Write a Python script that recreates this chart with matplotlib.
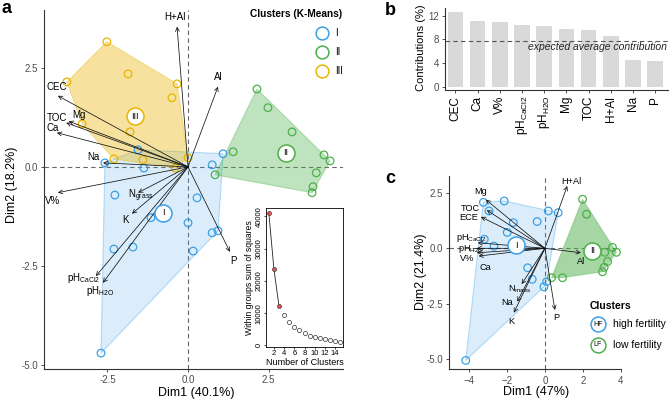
import numpy as np
import matplotlib
matplotlib.use('Agg')
import matplotlib.pyplot as plt
from matplotlib.patches import Polygon

plt.rcParams['font.family'] = ['Liberation Sans', 'DejaVu Sans']
plt.rcParams['mathtext.fontset'] = 'custom'
plt.rcParams['mathtext.rm'] = 'Liberation Sans'
plt.rcParams['mathtext.it'] = 'Liberation Sans:italic'
plt.rcParams['mathtext.bf'] = 'Liberation Sans:bold'

# ---------------- data: panel a (PCA, k-means clusters) ----------------
a_I_x = [-2.58, -1.55, -1.37, 0.75, 1.09, -2.27, 0.28, -1.15, 0.0, 0.75, 0.93, -2.30, -1.71, 0.16, -2.70]
a_I_y = [0.10, 0.43, -0.03, 0.05, 0.33, -0.71, -0.78, -1.28, -1.41, -1.66, -1.61, -2.07, -2.02, -2.12, -4.69]
a_II_x = [2.14, 2.48, 3.23, 1.40, 4.22, 4.41, 3.98, 3.88, 3.85, 0.84]
a_II_y = [1.96, 1.49, 0.88, 0.38, 0.30, 0.15, -0.15, -0.50, -0.65, -0.20]
a_III_x = [-2.52, -1.86, -3.76, -0.34, -0.50, -3.29, -1.80, -2.30, -1.40, 0.0, -0.40]
a_III_y = [3.15, 2.34, 2.14, 2.09, 1.74, 1.08, 0.88, 0.20, 0.18, 0.23, -0.03]
a_centers = {'I': (-0.78, -1.16), 'II': (3.04, 0.35), 'III': (-1.65, 1.28)}

a_vars = ['H+Al', 'Al', 'CEC', 'Mg', 'TOC', 'Ca', 'Na', 'V%', 'Ngrass', 'K', 'pHCaCl2', 'pHH2O', 'P']
a_load_x = [-0.34, 0.93, -4.04, -3.70, -3.78, -4.07, -2.64, -4.04, -1.55, -1.74, -2.86, -2.64, 1.30]
a_load_y = [3.53, 2.02, 1.79, 1.15, 1.11, 0.86, 0.10, -0.65, -0.65, -1.18, -2.75, -2.92, -2.14]

# elbow inset
k_clusters = np.arange(1, 16)
wss = [41000, 23600, 12100, 9500, 7300, 5750, 4700, 3800, 3000, 2550, 2150, 1850, 1550, 1350, 1150]

# ---------------- data: panel b (contributions) ----------------
b_vars = ['CEC', 'Ca', 'V%', 'pHCaCl2', 'pHH2O', 'Mg', 'TOC', 'H+Al', 'Na', 'P']
b_contrib = [12.56, 11.1, 10.87, 10.48, 10.31, 9.80, 9.52, 8.62, 4.51, 4.28]
b_expected = 7.7

# ---------------- data: panel c (PCA, fertility clusters) ----------------
c_HF_x = [-3.25, -2.15, -2.95, -1.67, -1.99, -0.41, 0.18, 0.70, -3.20, -2.69, -0.91, -0.67, 0.09, -0.05, -4.18]
c_HF_y = [2.08, 2.14, 1.69, 1.16, 0.72, 1.21, 1.69, 1.61, 0.41, 0.10, -0.88, -1.40, -1.51, -1.74, -5.07]
c_LF_x = [1.99, 2.20, 3.57, 3.78, 3.16, 3.31, 3.13, 3.04, 0.35, 0.93]
c_LF_y = [2.22, 1.54, 0.04, -0.18, -0.18, -0.60, -0.86, -1.06, -1.33, -1.33]
c_centers = {'I': (-1.53, 0.15), 'II': (2.50, -0.12)}

c_vars = ['H+Al', 'Mg', 'TOC', 'ECE', 'pHCaCl2', 'pHH2O', 'V%', 'Ca', 'Al', 'P', 'Nmass', 'Na', 'K']
c_load_x = [1.18, -3.12, -3.07, -3.38, -3.55, -3.60, -3.60, -3.50, 1.90, 0.53, -1.23, -1.46, -1.64]
c_load_y = [2.82, 2.20, 1.73, 1.42, 0.25, 0.0, -0.20, -0.35, -0.20, -2.79, -1.62, -2.41, -2.91]

# ---------------- styles / layout ----------------
BLUE = '#3AA0E6'
GREEN = '#4DAF4A'
YELLOW = '#E8B400'
AXC = '#333333'

pretty = {
    'pHCaCl2': r'pH$_{\mathregular{CaCl2}}$',
    'pHH2O': r'pH$_{\mathregular{H2O}}$',
    'Ngrass': r'N$_{\mathregular{grass}}$',
    'Nmass': r'N$_{\mathregular{mass}}$',
}

a_lab_pos = {'H+Al': (-0.40, 3.78), 'Al': (0.93, 2.27), 'CEC': (-4.07, 2.02), 'Mg': (-3.40, 1.31),
             'TOC': (-4.07, 1.23), 'Ca': (-4.19, 0.98), 'Na': (-2.95, 0.25), 'V%': (-4.19, -0.86),
             'Ngrass': (-1.45, -0.73), 'K': (-1.93, -1.33), 'pHCaCl2': (-3.25, -2.80),
             'pHH2O': (-2.72, -3.12), 'P': (1.40, -2.37)}
c_lab_pos = {'H+Al': (1.41, 3.01), 'Mg': (-3.38, 2.56), 'TOC': (-3.96, 1.81), 'ECE': (-4.04, 1.39),
             'pHCaCl2': (-3.85, 0.47), 'pHH2O': (-3.90, -0.02), 'V%': (-4.13, -0.47), 'Ca': (-3.16, -0.86),
             'Al': (1.90, -0.60), 'P': (0.58, -3.12), 'Nmass': (-1.32, -1.86), 'Na': (-1.99, -2.44),
             'K': (-1.76, -3.29)}


def convex_hull(xs, ys):
    pts = sorted(set(zip(xs, ys)))

    def cross(o, a, b):
        return (a[0] - o[0]) * (b[1] - o[1]) - (a[1] - o[1]) * (b[0] - o[0])
    lower, upper = [], []
    for p in pts:
        while len(lower) >= 2 and cross(lower[-2], lower[-1], p) <= 0:
            lower.pop()
        lower.append(p)
    for p in reversed(pts):
        while len(upper) >= 2 and cross(upper[-2], upper[-1], p) <= 0:
            upper.pop()
        upper.append(p)
    return np.array(lower[:-1] + upper[:-1])


def style_axes(ax):
    for s in ['top', 'right']:
        ax.spines[s].set_visible(False)
    for s in ['left', 'bottom']:
        ax.spines[s].set_color(AXC)
        ax.spines[s].set_linewidth(0.8)
    ax.tick_params(colors=AXC, labelcolor='#4D4D4D', labelsize=7, length=2.5, width=0.6, pad=2)


def biplot(ax, groups, centers, vars_, lx, ly, lab_pos, labsize):
    ax.axhline(0, color='#666666', ls=(0, (4, 3)), lw=0.8, zorder=1)
    ax.axvline(0, color='#666666', ls=(0, (4, 3)), lw=0.8, zorder=1)
    for xs, ys, col, alpha in groups:
        h = convex_hull(xs, ys)
        ax.add_patch(Polygon(h, closed=True, facecolor=col, alpha=alpha, edgecolor='none', zorder=2))
        ax.add_patch(Polygon(h, closed=True, facecolor='none', edgecolor=col, alpha=0.35, lw=0.8, zorder=2))
    for xs, ys, col, alpha in groups:
        ax.scatter(xs, ys, s=30, facecolors='none', edgecolors=col, linewidths=0.9, zorder=3)
    for name, (cx, cy), col in centers:
        ax.scatter([cx], [cy], s=150, facecolors='white', edgecolors=col, linewidths=1.1, zorder=5)
        ax.text(cx, cy, name, ha='center', va='center', fontsize=6.5, zorder=6)
    for v, x, y in zip(vars_, lx, ly):
        ax.annotate('', xy=(x, y), xytext=(0, 0),
                    arrowprops=dict(arrowstyle='->', lw=0.55, color='#111111',
                                    shrinkA=0, shrinkB=0, mutation_scale=7), zorder=4)
        tx, ty = lab_pos[v]
        ax.text(tx, ty, pretty.get(v, v), ha='center', va='center', fontsize=labsize, zorder=6)


fig = plt.figure(figsize=(6.69, 3.99), dpi=100)
W, H = 669.0, 399.0

# ---------------- panel a ----------------
ax_a = fig.add_axes([44 / W, 1 - 369 / H, 299 / W, 359 / H])
style_axes(ax_a)
biplot(ax_a,
       [(a_I_x, a_I_y, BLUE, 0.18), (a_II_x, a_II_y, GREEN, 0.35), (a_III_x, a_III_y, YELLOW, 0.38)],
       [('I', a_centers['I'], BLUE), ('II', a_centers['II'], GREEN), ('III', a_centers['III'], YELLOW)],
       a_vars, a_load_x, a_load_y, a_lab_pos, 7)
ax_a.set_xlim(-4.47, 4.81)
ax_a.set_ylim(-5.09, 3.95)
ax_a.set_xticks([-2.5, 0, 2.5])
ax_a.set_xticklabels(['-2.5', '0.0', '2.5'])
ax_a.set_yticks([-5, -2.5, 0, 2.5])
ax_a.set_yticklabels(['-5.0', '-2.5', '0.0', '2.5'])

# legend a
ax_a.text(0.689, 0.989, 'Clusters (K-Means)', transform=ax_a.transAxes, fontsize=7.3,
          fontweight='bold', ha='left', va='center')
for yy, name, col in [(0.936, 'I', BLUE), (0.883, 'II', GREEN), (0.830, 'III', YELLOW)]:
    ax_a.scatter([0.930], [yy], s=85, transform=ax_a.transAxes, facecolors='white',
                 edgecolors=col, linewidths=1.1, clip_on=False, zorder=6)
    ax_a.text(0.972, yy, name, transform=ax_a.transAxes, fontsize=7, ha='left', va='center')

fig.text(196 / W, 1 - 393 / H, 'Dim1 (40.1%)', ha='center', va='center', fontsize=9)
fig.text(12 / W, 1 - 185 / H, 'Dim2 (18.2%)', ha='center', va='center', fontsize=9, rotation=90)

# inset elbow
ax_in = fig.add_axes([266 / W, 1 - 347 / H, 77 / W, 139 / H])
ax_in.plot(k_clusters[:3], wss[:3], color='#222222', lw=0.6, zorder=1)
ax_in.scatter(k_clusters[:3], wss[:3], s=9, facecolors='#D9534F', edgecolors='#333333',
              linewidths=0.4, zorder=2)
ax_in.scatter(k_clusters[3:], wss[3:], s=9, facecolors='white', edgecolors='#333333',
              linewidths=0.5, zorder=2)
ax_in.set_xlim(0.44, 15.56)
ax_in.set_ylim(-500, 42600)
ax_in.set_xticks(np.arange(2, 16, 2))
ax_in.set_yticks([0, 10000, 20000, 30000, 40000])
ax_in.tick_params(labelsize=5.5, length=1.5, width=0.5, pad=1)
for lab in ax_in.get_yticklabels():
    lab.set_rotation(90)
    lab.set_va('center')
for s in ax_in.spines.values():
    s.set_linewidth(0.6)
ax_in.set_xlabel('Number of Clusters', fontsize=6.5, labelpad=0.5)
ax_in.set_ylabel('Within groups sum of squares', fontsize=6.2, labelpad=1)

# ---------------- panel b ----------------
ax_b = fig.add_axes([445 / W, 1 - 89.5 / H, 223 / W, 81.5 / H])
style_axes(ax_b)
xb = np.arange(len(b_vars))
ax_b.bar(xb, b_contrib, width=0.7, color='#D9D9D9', zorder=1)
ax_b.axhline(b_expected, color='#555555', ls=(0, (4, 3)), lw=0.8, zorder=2)
ax_b.set_xlim(-0.47, 9.58)
ax_b.set_ylim(-0.47, 13.3)
ax_b.set_yticks([0, 4, 8, 12])
ax_b.set_xticks(xb)
ax_b.set_xticklabels([pretty.get(v, v) for v in b_vars], rotation=90, color='black',
                     fontsize=8.5, family=['Liberation Sans Narrow', 'Liberation Sans'])
ax_b.text(9.55, 6.65, 'expected average contribution', ha='right', va='center',
          fontsize=7.5, style='italic', color='#222222')
fig.text(421 / W, 1 - 48 / H, 'Contributions (%)', ha='center', va='center', fontsize=8, rotation=90)

# ---------------- panel c ----------------
ax_c = fig.add_axes([449.3 / W, 1 - 369.3 / H, 171.7 / W, 193.3 / H])
style_axes(ax_c)
biplot(ax_c,
       [(c_HF_x, c_HF_y, BLUE, 0.18), (c_LF_x, c_LF_y, GREEN, 0.5)],
       [('I', c_centers['I'], BLUE), ('II', c_centers['II'], GREEN)],
       c_vars, c_load_x, c_load_y, c_lab_pos, 6.6)
ax_c.set_xlim(-5.05, 4.02)
ax_c.set_ylim(-5.47, 3.27)
ax_c.set_xticks([-4, -2, 0, 2, 4])
ax_c.set_yticks([-5, -2.5, 0, 2.5])
ax_c.set_yticklabels(['-5.0', '-2.5', '0.0', '2.5'])

ax_c.text(0.819, 0.327, 'Clusters', transform=ax_c.transAxes, fontsize=7.5,
          fontweight='bold', ha='left', va='center')
for yy, code, name, col in [(0.234, 'HF', 'high fertility', BLUE), (0.126, 'LF', 'low fertility', GREEN)]:
    ax_c.scatter([0.866], [yy], s=115, transform=ax_c.transAxes, facecolors='white',
                 edgecolors=col, linewidths=1.1, clip_on=False, zorder=6)
    ax_c.text(0.866, yy, code, transform=ax_c.transAxes, fontsize=5, ha='center', va='center', zorder=7)
    ax_c.text(0.953, yy, name, transform=ax_c.transAxes, fontsize=7.5, ha='left', va='center')

fig.text(536 / W, 1 - 392 / H, 'Dim1 (47%)', ha='center', va='center', fontsize=9)
fig.text(421 / W, 1 - 272 / H, 'Dim2 (21.4%)', ha='center', va='center', fontsize=9, rotation=90)

# panel letters
fig.text(1 / W, 1 - 13 / H, 'a', fontsize=13, fontweight='bold', va='baseline')
fig.text(385 / W, 1 - 15 / H, 'b', fontsize=13, fontweight='bold', va='baseline')
fig.text(385 / W, 1 - 183 / H, 'c', fontsize=13, fontweight='bold', va='baseline')

fig.savefig('out.png', dpi=100)
